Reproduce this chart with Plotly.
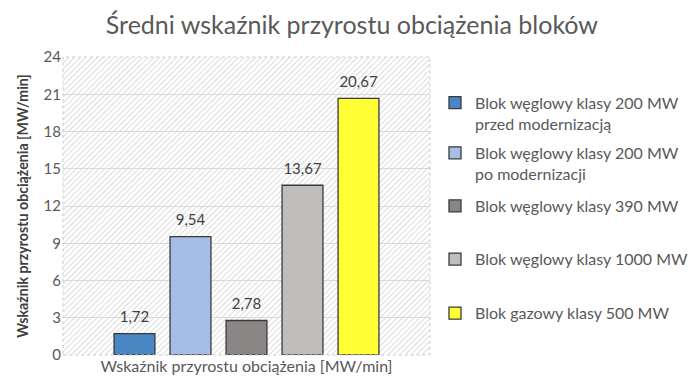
import base64
import plotly.graph_objects as go

category = ["Wskaźnik przyrostu obciążenia [MW/min]"]
series_names = [
    "Blok węglowy klasy 200 MW<br>przed modernizacją",
    "Blok węglowy klasy 200 MW<br>po modernizacji",
    "Blok węglowy klasy 390 MW",
    "Blok węglowy klasy 1000 MW",
    "Blok gazowy klasy 500 MW",
]
values = [1.72, 9.54, 2.78, 13.67, 20.67]
labels = ["1,72", "9,54", "2,78", "13,67", "20,67"]
colors = ["#4a86c4", "#a6bde6", "#8a8686", "#bfbebc", "#ffff33"]
y_ticks = [0, 3, 6, 9, 12, 15, 18, 21, 24]

FONT = "Lato, 'Open Sans', sans-serif"

# hatched plot-area background
svg = (
    '<svg xmlns="http://www.w3.org/2000/svg" width="367" height="298">'
    '<defs><pattern id="p" width="4" height="4" patternUnits="userSpaceOnUse" '
    'patternTransform="rotate(45)">'
    '<rect width="4" height="4" fill="#ffffff"/>'
    '<line x1="0" y1="0" x2="0" y2="4" stroke="#d4d4d4" stroke-width="1.6"/>'
    '</pattern></defs>'
    '<rect width="367" height="298" fill="url(#p)"/></svg>'
)
svg_uri = "data:image/svg+xml;base64," + base64.b64encode(svg.encode()).decode()

fig = go.Figure()
legend_ids = ["legend", "legend2", "legend3", "legend4", "legend5"]
for name, v, c, lg in zip(series_names, values, colors, legend_ids):
    fig.add_trace(go.Bar(
        x=category, y=[v], name=name,
        marker=dict(color=c, line=dict(color="#3a3a3a", width=1.3)),
        legend=lg,
    ))
# value labels, grouped to sit above each bar
for v, lab in zip(values, labels):
    fig.add_trace(go.Scatter(
        x=category, y=[v], text=[lab], mode="markers+text",
        textposition="top center", cliponaxis=False,
        marker=dict(size=10.5, opacity=0),
        textfont=dict(size=15, color="#404040", family=FONT),
        showlegend=False, hoverinfo="skip",
    ))

legend_y = [0.811, 0.643, 0.50, 0.3215, 0.14]
legend_cfg = {}
for lg, yy in zip(legend_ids, legend_y):
    legend_cfg[lg] = dict(
        x=1.0136, y=yy, xanchor="left", yanchor="middle",
        font=dict(size=16, color="#595959", family=FONT),
        bgcolor="rgba(0,0,0,0)", valign="top", itemwidth=30,
    )

fig.update_layout(
    width=690, height=386,
    margin=dict(l=63, r=260, t=57, b=31, autoexpand=False),
    paper_bgcolor="white", plot_bgcolor="rgba(0,0,0,0)",
    barmode="group", bargap=0.237, bargroupgap=0.27,
    scattermode="group", scattergap=0.237,
    title=dict(text="Średni wskaźnik przyrostu obciążenia bloków",
               x=0.51, xanchor="center", xref="container", y=0.934, yanchor="middle",
               font=dict(size=25, color="#595959", family=FONT)),
    showlegend=True,
    images=[dict(source=svg_uri, xref="paper", yref="paper", x=0, y=1,
                 sizex=1, sizey=1, sizing="stretch", layer="below",
                 xanchor="left", yanchor="top")],
    shapes=[dict(type="rect", xref="paper", yref="paper", x0=0, y0=0, x1=1, y1=1,
                 line=dict(color="#cfcfcf", width=1, dash="dot"), layer="above")],
    **legend_cfg,
)
fig.update_xaxes(
    tickfont=dict(size=16, color="#595959", family=FONT),
    showgrid=False, showline=False, ticks="", automargin=False,
)
fig.update_yaxes(
    range=[0, 24], tickvals=y_ticks, ticktext=[str(t) for t in y_ticks],
    tickfont=dict(size=15, color="#595959", family=FONT),
    showgrid=True, gridcolor="#d9d9d9", gridwidth=1, zeroline=False,
    ticks="", ticklabelstandoff=1, automargin=False,
    title=dict(text="<b>Wskaźnik przyrostu obciążenia [MW/min]</b>",
               font=dict(size=14.2, color="#404040", family=FONT), standoff=11),
)

fig.write_html("out.html", config={"displayModeBar": False},
               post_script="document.body.style.margin='0';")
